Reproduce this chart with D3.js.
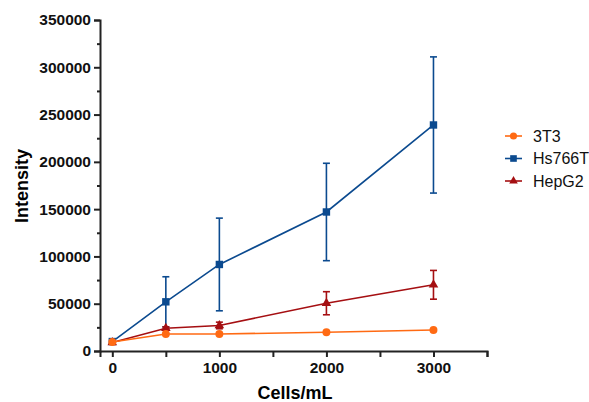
<!DOCTYPE html>
<html>
<head>
<meta charset="utf-8">
<script src="https://cdn.jsdelivr.net/npm/d3@7"></script>
<style>
  body { margin: 0; background: #fff; }
  text { font-family: "Liberation Sans", Arial, sans-serif; }
</style>
</head>
<body>
<svg id="chart" width="589" height="402"></svg>
<script>
  var cells = [0, 500, 1000, 2000, 3000];
  var seriesNames = ["3T3", "Hs766T", "HepG2"];
  var colors = ["#ff6a13", "#0b4a8f", "#a50f12"];
  var symbols = ["circle", "square", "triangle"];

  var t3t3 = [9500, 18000, 18000, 19800, 22200];
  var t3t3Err = [0, 0, 0, 0, 0];
  var hs766t = [10000, 52000, 91500, 147000, 239000];
  var hs766tErr = [0, 26500, 49000, 51500, 72000];
  var hepg2 = [9000, 24000, 27000, 50500, 70000];
  var hepg2Err = [0, 1500, 3500, 12200, 15200];

  var xTicks = [0, 1000, 2000, 3000];
  var yTicks = [0, 50000, 100000, 150000, 200000, 250000, 300000, 350000];

  var values = [t3t3, hs766t, hepg2];
  var errors = [t3t3Err, hs766tErr, hepg2Err];

  var svg = d3.select("#chart");
  var x = d3.scaleLinear().domain([-115, 3500]).range([100, 487]);
  var y = d3.scaleLinear().domain([0, 350000]).range([351, 20]);

  // y axis
  svg.append("g").attr("transform", "translate(100,0)")
    .call(d3.axisLeft(y).tickValues(yTicks).tickSize(6).tickPadding(3).tickFormat(d3.format("d")));
  svg.append("g").attr("transform", "translate(100,0)")
    .call(d3.axisLeft(y).tickValues(d3.range(25000, 350000, 50000)).tickSize(3).tickFormat(""))
    .select(".domain").remove();

  // x axis
  svg.append("g").attr("transform", "translate(0,351)")
    .call(d3.axisBottom(x).tickValues(xTicks).tickSize(6).tickPadding(5).tickFormat(d3.format("d")));
  svg.append("g").attr("transform", "translate(0,351)")
    .call(d3.axisBottom(x).tickValues([500, 1500, 2500, 3500]).tickSize(6).tickFormat(""))
    .select(".domain").remove();

  svg.selectAll(".domain").attr("stroke", "#222").attr("stroke-width", 2);
  svg.selectAll(".tick line").attr("stroke", "#222").attr("stroke-width", 2);
  svg.selectAll(".tick text").attr("fill", "#111")
    .style("font-size", "15.5px").style("font-weight", "bold")
    .style("font-family", "'Liberation Sans', Arial, sans-serif");

  svg.append("text")
    .attr("transform", "translate(28,186) rotate(-90)")
    .attr("text-anchor", "middle")
    .style("font-size", "18px").style("font-weight", "bold")
    .text("Intensity");
  svg.append("text")
    .attr("x", 295).attr("y", 399)
    .attr("text-anchor", "middle")
    .style("font-size", "18px").style("font-weight", "bold")
    .text("Cells/mL");

  var symType = { circle: d3.symbolCircle, square: d3.symbolSquare, triangle: d3.symbolTriangle };
  var symSize = { circle: 50, square: 55, triangle: 40 };

  var line = d3.line().x(function(d, i) { return x(cells[i]); }).y(function(d) { return y(d); });

  // draw in order: 3T3 last so it's on top near zero
  [1, 2, 0].forEach(function(s) {
    var g = svg.append("g").attr("class", "series");
    var c = colors[s];
    values[s].forEach(function(v, i) {
      var e = errors[s][i];
      if (!e) return;
      var cx = x(cells[i]);
      g.append("line").attr("x1", cx).attr("x2", cx).attr("y1", y(v - e)).attr("y2", y(v + e))
        .attr("stroke", c).attr("stroke-width", 1.6);
      [v - e, v + e].forEach(function(w) {
        g.append("line").attr("x1", cx - 3.5).attr("x2", cx + 3.5).attr("y1", y(w)).attr("y2", y(w))
          .attr("stroke", c).attr("stroke-width", 1.6);
      });
    });
    g.append("path").datum(values[s]).attr("d", line)
      .attr("fill", "none").attr("stroke", c).attr("stroke-width", 1.6);
    g.selectAll(".pt").data(values[s]).enter().append("path")
      .attr("transform", function(d, i) { return "translate(" + x(cells[i]) + "," + y(d) + ")"; })
      .attr("d", d3.symbol().type(symType[symbols[s]]).size(symSize[symbols[s]]))
      .attr("fill", c);
  });

  // legend
  var legend = svg.append("g").attr("transform", "translate(505,136)");
  seriesNames.forEach(function(name, i) {
    var row = legend.append("g").attr("transform", "translate(0," + (i * 22.5) + ")");
    row.append("line").attr("x1", 0).attr("x2", 17).attr("stroke", colors[i]).attr("stroke-width", 1.6);
    row.append("path").attr("transform", "translate(8.5,0)")
      .attr("d", d3.symbol().type(symType[symbols[i]]).size(symSize[symbols[i]] * 0.8))
      .attr("fill", colors[i]);
    row.append("text").attr("x", 28).attr("y", 5.5)
      .style("font-size", "16px").attr("fill", "#111").text(name);
  });
</script>
</body>
</html>
